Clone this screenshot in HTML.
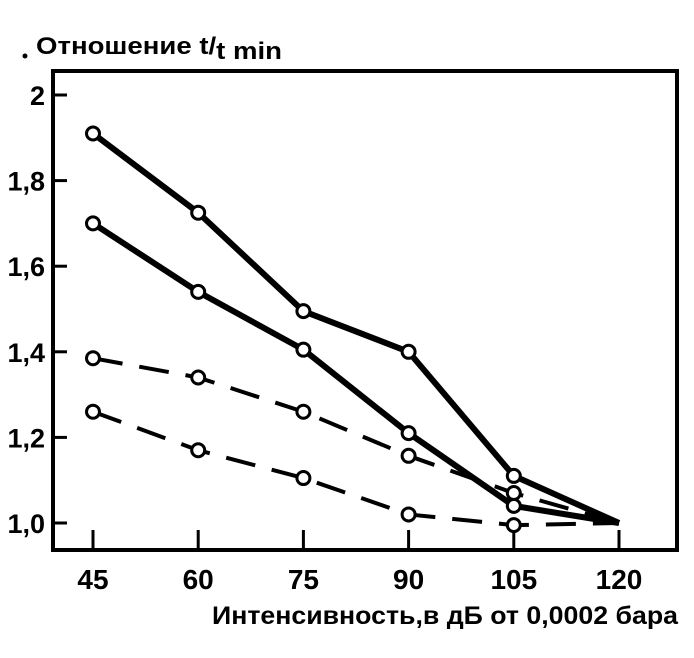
<!DOCTYPE html>
<html><head><meta charset="utf-8"><style>
html,body{margin:0;padding:0;background:#fff;}
svg{display:block;}
text{font-family:"Liberation Sans",sans-serif;font-weight:bold;fill:#000;}
</style></head><body>
<svg id="chart" width="694" height="658" viewBox="0 0 694 658" xmlns="http://www.w3.org/2000/svg">
<text x="36" y="54" font-size="24" textLength="246" lengthAdjust="spacingAndGlyphs">Отношение t/<tspan dy="5">t min</tspan></text>
<circle cx="25" cy="56" r="2.5" fill="#000"/>
<rect x="53" y="71" width="624" height="479" fill="none" stroke="#000" stroke-width="4"/>
<g id="axes"></g>
<g id="series"></g>
<text x="212" y="624" font-size="25" textLength="466" lengthAdjust="spacingAndGlyphs">Интенсивность,в дБ от 0,0002 бара</text>
</svg>
<script>
const categories = [45, 60, 75, 90, 105, 120];
const seriesA = [1.91, 1.725, 1.495, 1.40, 1.11, 1.0];
const seriesB = [1.70, 1.54, 1.405, 1.21, 1.04, 1.0];
const seriesC = [1.385, 1.34, 1.26, 1.157, 1.07, 1.0];
const seriesD = [1.26, 1.17, 1.105, 1.02, 0.995, 1.0];
const yTicks = [1.0, 1.2, 1.4, 1.6, 1.8, 2.0];
const yTickLabels = ["1,0", "1,2", "1,4", "1,6", "1,8", "2"];
const xTickLabels = ["45", "60", "75", "90", "105", "120"];

const NS = "http://www.w3.org/2000/svg";
function xs(v){ return 93 + (v - 45) * (526 / 75); }
function ys(v){ return 523 - (v - 1) * 428; }
function mk(tag, attrs, parent){ const e = document.createElementNS(NS, tag); for (const k in attrs) e.setAttribute(k, attrs[k]); parent.appendChild(e); return e; }

const axes = document.getElementById('axes');
yTicks.forEach((v, i) => {
  const t = mk('line', {x1: 53, x2: 67, y1: ys(v), y2: ys(v), stroke: '#000', 'stroke-width': 3}, axes);
  
  
  const l = mk('text', {x: 45, y: ys(v) + 10, 'font-size': 27, 'text-anchor': 'end'}, axes);
  l.textContent = yTickLabels[i];
  
  
});
categories.forEach((c, i) => {
  const t = mk('line', {x1: xs(c), x2: xs(c), y1: 550, y2: 530, stroke: '#000', 'stroke-width': 3}, axes);
  
  
  const l = mk('text', {x: xs(c), y: 589, 'font-size': 28, 'text-anchor': 'middle'}, axes);
  l.textContent = xTickLabels[i];
  
  
});

const sg = document.getElementById('series');
function drawSeries(vals, name, dashed){
  const g = mk('g', {}, sg);
  
  
  const pts = vals.map((v, i) => xs(categories[i]) + ',' + ys(v)).join(' ');
  const attrs = {points: pts, fill: 'none', stroke: '#000', 'stroke-width': dashed ? 4 : 6, 'stroke-linejoin': 'round'};
  if (dashed) attrs['stroke-dasharray'] = '30 17';
  const pl = mk('polyline', attrs, g);
  
  
  vals.forEach((v, i) => {
    if (i === vals.length - 1) return;
    const c = mk('circle', {cx: xs(categories[i]), cy: ys(v), r: 6.5, fill: '#fff', stroke: '#000', 'stroke-width': 3}, g);
    
    
  });
}
drawSeries(seriesA, 'series-a', false);
drawSeries(seriesB, 'series-b', false);
drawSeries(seriesC, 'series-c', true);
drawSeries(seriesD, 'series-d', true);
</script>
</body></html>
